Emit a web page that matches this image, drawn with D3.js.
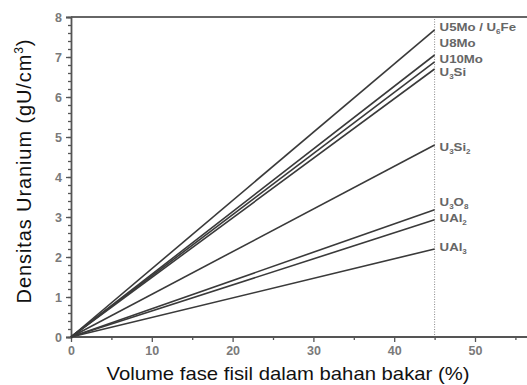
<!DOCTYPE html>
<html>
<head>
<meta charset="utf-8">
<script src="https://cdn.jsdelivr.net/npm/d3@7"></script>
<style>
  html, body { margin: 0; padding: 0; background: #fff; }
  svg { display: block; font-family: "Liberation Sans", Arial, sans-serif; }
</style>
</head>
<body>
<svg id="chart" width="527" height="385"></svg>
<script>
// ---- data ----
const seriesNames = ["U5Mo / U_6Fe", "U8Mo", "U10Mo", "U_3Si", "U_3Si_2", "U_3O_8", "UAl_2", "UAl_3"];
const endVolume = 45;                 // % fissile volume where lines end (dotted marker)
const endDensity = [7.68, 7.05, 6.88, 6.70, 4.80, 3.18, 2.93, 2.20];   // gU/cm3 at 45 %
const labelDensity = [7.75, 7.35, 6.95, 6.62, 4.75, 3.38, 2.98, 2.25];  // where each label sits
const xMajorTicks = [0, 10, 20, 30, 40, 50];
const xMinorTicks = [5, 15, 25, 35, 45, 55];
const yMajorTicks = [0, 1, 2, 3, 4, 5, 6, 7, 8];
const xTitle = "Volume fase fisil dalam bahan bakar (%)";
const yTitle = "Densitas Uranium (gU/cm";

// ---- layout ----
const svg = d3.select("#chart");
const W = 527;
const x = d3.scaleLinear().domain([0, 57.5]).range([71, 71 + 57.5 * 8.08]);
const y = d3.scaleLinear().domain([0, 8]).range([337, 17]);

const axisColor = "#555";
const tickText = "#7a7a7a";

// top frame line
svg.append("line")
  .attr("x1", x(0)).attr("x2", W)
  .attr("y1", y(8)).attr("y2", y(8))
  .attr("stroke", "#666").attr("stroke-width", 2);

// dotted vertical line at 45 %
svg.append("line")
  .attr("x1", x(endVolume)).attr("x2", x(endVolume))
  .attr("y1", y(8) + 2).attr("y2", y(0))
  .attr("stroke", "#888").attr("stroke-width", 1)
  .attr("stroke-dasharray", "1,1.5");

// x axis
const gx = svg.append("g").attr("transform", `translate(0,${y(0)})`);
gx.call(d3.axisBottom(x).tickValues(xMajorTicks).tickSize(5).tickPadding(4).tickFormat(d3.format("d")));
const gxm = svg.append("g").attr("transform", `translate(0,${y(0)})`);
gxm.call(d3.axisBottom(x).tickValues(xMinorTicks).tickSize(3).tickFormat(""));
gxm.select(".domain").remove();
gx.select(".domain").attr("d", `M${x(0)},0H${W}`);

// y axis
const gy = svg.append("g").attr("transform", `translate(${x(0)},0)`);
gy.call(d3.axisLeft(y).tickValues(yMajorTicks).tickSize(5).tickPadding(4).tickFormat(d3.format("d")));
const gym = svg.append("g").attr("transform", `translate(${x(0)},0)`);
gym.call(d3.axisLeft(y).tickValues(d3.range(0, 8.001, 0.2)).tickSize(3).tickFormat(""));
gym.select(".domain").remove();

[gx, gxm, gy, gym].forEach(g => {
  g.attr("font-size", 12.5).attr("font-family", "Liberation Sans, Arial, sans-serif");
  g.selectAll(".domain").attr("stroke", axisColor).attr("stroke-width", 1.8);
  g.selectAll(".tick line").attr("stroke", axisColor).attr("stroke-width", 1.3);
  g.selectAll(".tick text")
    .attr("fill", tickText).attr("font-size", 12.5).attr("font-weight", "bold");
});

// series lines
const line = d3.line().x(d => x(d[0])).y(d => y(d[1]));
svg.append("g").selectAll("path")
  .data(endDensity)
  .join("path")
  .attr("d", v => line([[0, 0], [endVolume, v]]))
  .attr("fill", "none")
  .attr("stroke", "#3a3a3a")
  .attr("stroke-width", 1.6);

// labels with subscripts
function addRich(textSel, s) {
  const parts = s.split(/(_\d)/).filter(p => p.length);
  let lowered = false;
  parts.forEach(p => {
    if (p.startsWith("_")) {
      textSel.append("tspan").attr("font-size", 7).attr("dy", lowered ? 0 : 3).text(p.slice(1));
      lowered = true;
    } else {
      const ts = textSel.append("tspan").attr("font-size", 11.5).text(p);
      if (lowered) { ts.attr("dy", -3); lowered = false; }
    }
  });
}
const lg = svg.append("g")
  .attr("font-size", 11.5).attr("font-weight", "bold").attr("fill", "#666");
seriesNames.forEach((n, i) => {
  const t = lg.append("text")
    .attr("transform", `translate(${x(endVolume) + 5},${y(labelDensity[i]) + 4}) scale(1.15,1)`)
    .attr("x", 0).attr("y", 0);
  addRich(t, n);
});

// axis titles
svg.append("text")
  .attr("x", 288).attr("y", 380)
  .attr("text-anchor", "middle")
  .attr("font-size", 19).attr("fill", "#111")
  .attr("textLength", 363).attr("lengthAdjust", "spacingAndGlyphs")
  .text(xTitle);

const yt = svg.append("text")
  .attr("transform", `translate(31,${171}) rotate(-90)`)
  .attr("text-anchor", "middle")
  .attr("font-size", 20).attr("fill", "#111")
  .attr("letter-spacing", 0.9);
yt.append("tspan").attr("font-size", 20).text(yTitle);
yt.append("tspan").attr("font-size", 12).attr("dy", -8).text("3");
yt.append("tspan").attr("font-size", 20).attr("dy", 8).text(")");
</script>
</body>
</html>
